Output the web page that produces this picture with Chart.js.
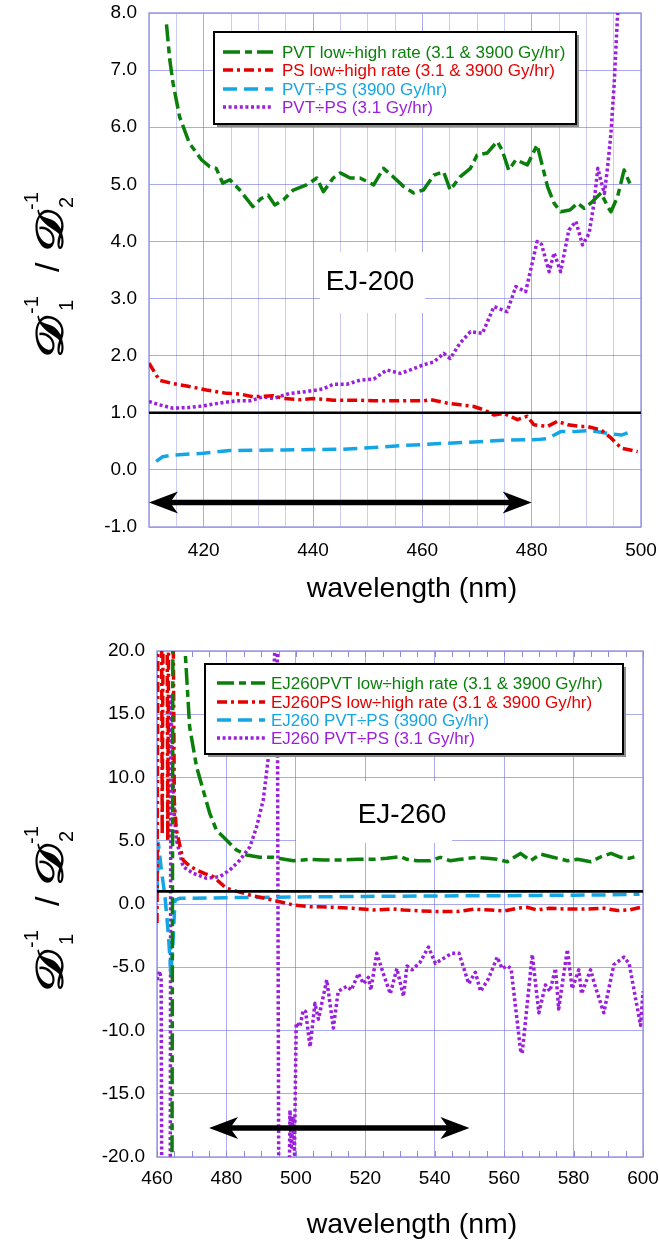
<!DOCTYPE html>
<html><head><meta charset="utf-8">
<script src="https://cdn.jsdelivr.net/npm/chart.js@4.4.1/dist/chart.umd.min.js"></script>
<style>
html,body{margin:0;padding:0;background:#fff;}
canvas{display:block;}
</style></head><body>
<canvas id="c1" width="659" height="620"></canvas>
<canvas id="c2" width="659" height="624"></canvas>
<script>
// ---------------- DATA : EJ-200 ----------------
const ej200Labels = ["PVT low\u00f7high rate (3.1 & 3900 Gy/hr)", "PS low\u00f7high rate (3.1 & 3900 Gy/hr)", "PVT\u00f7PS (3900 Gy/hr)", "PVT\u00f7PS (3.1 Gy/hr)"];
const ej200GreenX = [413.2,413.8,414.4,415.6,417.4,419.6,421.1,422.3,423.5,424.8,426.6,429.0,430.5,431.8,433.0,434.6,436.4,438.8,440.7,441.9,443.7,445.0,446.8,448.6,451.1,452.9,454.7,456.6,458.4,460.2,462.1,463.9,465.1,466.9,468.8,470.0,471.9,473.7,474.6,475.8,477.1,479.2,481.0,482.0,482.9,484.1,485.3,487.0,488.4,489.6,490.8,492.7,493.9,494.5,495.7,496.9,498.2];
const ej200GreenY = [7.80,7.18,6.77,6.18,5.72,5.43,5.31,5.28,5.02,5.08,4.90,4.61,4.75,4.81,4.64,4.73,4.90,4.99,5.11,4.87,5.11,5.20,5.11,5.11,4.99,5.28,5.13,4.96,4.85,4.90,5.16,5.22,4.90,5.13,5.28,5.51,5.55,5.75,5.60,5.25,5.43,5.34,5.69,5.31,4.96,4.67,4.52,4.55,4.67,4.58,4.67,4.85,4.61,4.52,4.78,5.25,4.96];
const ej200RedX = [410.0,411.9,414.4,417.4,420.5,424.2,426.6,429.0,432.7,434.6,437.6,440.1,443.7,448.0,451.0,454.7,460.2,461.5,464.5,467.0,469.4,471.3,473.1,474.9,477.4,479.2,480.4,482.9,484.7,486.6,489.0,490.2,492.7,494.5,496.4,499.4];
const ej200RedY = [1.87,1.57,1.51,1.46,1.40,1.34,1.33,1.28,1.30,1.25,1.23,1.25,1.22,1.22,1.21,1.21,1.21,1.23,1.17,1.14,1.11,1.05,0.96,0.99,0.88,0.94,0.79,0.76,0.85,0.79,0.76,0.76,0.70,0.56,0.38,0.32];
const ej200CyanX = [411.3,412.5,414.4,419.9,424.8,434.6,445.0,451.1,457.2,463.3,469.4,475.5,481.0,482.9,485.3,487.7,490.8,493.9,496.4,498.2];
const ej200CyanY = [0.15,0.23,0.26,0.29,0.34,0.35,0.36,0.39,0.43,0.46,0.49,0.52,0.53,0.55,0.67,0.67,0.69,0.64,0.61,0.67];
const ej200PurpleX = [410.0,411.9,414.4,417.0,419.9,422.9,426.0,428.5,430.9,432.7,435.8,438.8,441.9,443.7,446.2,448.6,451.1,453.5,456.0,457.8,460.2,462.1,463.9,465.1,466.9,468.8,471.0,473.1,475.5,477.1,478.9,481.0,481.8,483.2,484.1,485.3,486.8,488.1,489.3,490.5,491.4,492.1,492.7,493.3,493.9,494.5,495.1,495.7,496.2];
const ej200PurpleY = [1.20,1.14,1.08,1.09,1.12,1.17,1.21,1.21,1.28,1.25,1.34,1.37,1.42,1.50,1.50,1.57,1.59,1.75,1.69,1.75,1.84,1.89,2.04,1.95,2.22,2.42,2.39,2.86,2.77,3.21,3.12,4.00,3.95,3.47,3.80,3.47,4.20,4.35,3.94,4.14,4.67,5.28,5.05,4.84,5.31,5.89,6.77,7.94,8.6];
const ej200RefX = [410, 500];
const ej200RefY = [1, 1];
const ej200ArrowX = [410, 480];
const ej200ArrowY = -0.57;
const ej200XTicks = [410, 500, 5];
const ej200YTicks = [-1, 8, 1];

// ---------------- DATA : EJ-260 ----------------
const ej260Labels = ["EJ260PVT low\u00f7high rate (3.1 & 3900 Gy/hr)", "EJ260PS low\u00f7high rate (3.1 & 3900 Gy/hr)", "EJ260 PVT\u00f7PS (3900 Gy/hr)", "EJ260 PVT\u00f7PS (3.1 Gy/hr)"];
const ej260GreenX = [464.3,464.6,468.0,469.4,471.4,473.3,475.2,477.1,480.0,482.9,485.8,489.6,493.5,495.4,499.3,504.1,508.0,512.8,517.6,522.4,526.2,530.1,532.0,534.9,538.7,541.6,544.5,547.4,552.2,555.1,558.0,560.9,564.7,567.6,570.5,573.5,578.2,581.1,585.0,587.9,590.8,593.6,596.0,598.4];
const ej260GreenY = [-25,25,20.5,14.0,10.85,9.0,7.17,5.85,5.06,4.27,3.87,3.70,3.69,3.60,3.42,3.53,3.48,3.48,3.53,3.53,3.61,3.74,3.53,3.42,3.42,3.69,3.42,3.53,3.69,3.61,3.53,3.34,4.00,3.42,3.95,3.74,3.42,3.53,3.34,3.74,4.00,3.69,3.61,3.79];
const ej260RedX = [460.0,460.3,461.3,461.5,461.8,462.9,463.1,463.4,464.6,465.0,465.6,467.5,469.4,471.4,473.8,476.2,480.0,483.0,486.8,491.0,495.4,499.3,504.1,510.8,516.6,522.4,528.1,531.0,535.8,541.6,546.4,551.2,556.1,559.9,563.7,566.6,569.5,573.0,578.2,583.0,588.8,592.7,596.0,599.3];
const ej260RedY = [-1.5,25,25,5.5,25,25,5,25,25,8,5.85,3.48,3.0,2.69,2.4,2.16,1.24,1.0,0.71,0.45,0.18,-0.08,-0.21,-0.26,-0.34,-0.47,-0.40,-0.47,-0.55,-0.60,-0.60,-0.42,-0.47,-0.55,-0.34,-0.26,-0.47,-0.34,-0.40,-0.40,-0.34,-0.52,-0.47,-0.26];
const ej260CyanX = [460.0,460.4,461.3,462.3,463.3,464.0,464.6,465.2,466.5,470,480,490,500,510,520,530,540,550,560,570,580,590,599];
const ej260CyanY = [0.8,4.8,2.6,0.6,-2.5,-5.5,-3.0,0.3,0.45,0.45,0.5,0.52,0.55,0.58,0.6,0.62,0.63,0.65,0.66,0.68,0.7,0.72,0.78];
const ej260PurpleX = [460.0,460.8,461.2,461.4,463.8,464.0,464.5,465.0,465.6,467.5,470.4,474.3,478.1,481.0,483.9,486.8,488.7,490.6,492.1,493.5,494.6,495.1,498.0,498.3,498.7,499.2,499.6,500.1,501.2,502.1,502.8,504.1,505.5,506.5,508.9,510.8,512.2,514.7,516.0,518.0,519.5,520.9,521.6,523.3,525.2,527.2,529.1,531.0,532.0,533.5,535.8,538.2,540.2,542.5,545.0,547.0,549.8,551.7,553.2,555.5,558.0,559.4,560.9,562.0,564.7,565.2,568.1,570.0,571.9,573.2,574.8,575.7,578.2,579.6,581.5,582.3,584.9,586.0,588.7,591.6,594.5,596.0,599.3,600.0];
const ej260PurpleY = [-6.0,-5.3,-6.0,-25,-25,16.4,11,7,5.06,2.95,2.43,2.03,2.16,2.69,3.48,4.53,6.11,8.22,11.64,16.9,25,-25,-25,-16.3,-19.2,-16.8,-19.8,-9.4,-9.7,-8.4,-8.5,-11.3,-7.85,-9.1,-6.0,-9.8,-6.9,-6.5,-6.8,-5.5,-6.3,-5.8,-6.8,-3.9,-5.5,-7.1,-5.1,-7.3,-4.9,-5.2,-4.6,-3.4,-4.7,-4.3,-3.9,-3.9,-6.3,-5.4,-6.9,-5.9,-4.2,-5.1,-4.9,-5.1,-11.5,-11.8,-4.0,-8.6,-6.4,-6.9,-5.1,-8.3,-3.6,-6.7,-5.2,-7.1,-5.2,-6.3,-8.6,-4.8,-4.2,-4.7,-9.6,-6.9];
const ej260RefX = [460, 600];
const ej260RefY = [1, 1];
const ej260ArrowX = [475, 550];
const ej260ArrowY = -17.7;
const ej260XTicks = [460, 600, 20];
const ej260YTicks = [-20, 20, 5];

// ---------------- STYLE ----------------
const FONT = "'Liberation Sans', Arial, Helvetica, sans-serif";
Chart.defaults.font.family = FONT;
Chart.defaults.color = '#000';
Chart.defaults.animation = false;

const COLORS = {green:'#0b7f0b', red:'#e50000', cyan:'#14a6e4', purple:'#9b1fdb'};
const DASH = {green:[17,5,7,5], red:[10,4,3,4], cyan:[14,7], purple:[3,2.6]};

function pts(xs, ys){ return xs.map((x,i)=>({x:x, y:ys[i]})); }
function series(label, key, xs, ys){
  return {label:label, data:pts(xs,ys), borderColor:COLORS[key], backgroundColor:COLORS[key],
    borderDash:DASH[key], borderWidth:3.5, pointRadius:0, tension:0, fill:false,
    borderCapStyle:'butt', borderJoinStyle:'round'};
}
function refLine(xs, ys){
  return {label:'ref', data:pts(xs,ys), borderColor:'#000', borderWidth:2.6, pointRadius:0, tension:0, fill:false, order:-1};
}

function drawArrow(ctx, x0, x1, y){
  const L=29, H=11, N=8, T=5.5;
  ctx.save();
  ctx.fillStyle='#000'; ctx.strokeStyle='#000'; ctx.lineWidth=T; ctx.setLineDash([]);
  ctx.beginPath(); ctx.moveTo(x0+L-N-1, y); ctx.lineTo(x1-L+N+1, y); ctx.stroke();
  ctx.beginPath(); ctx.moveTo(x0,y); ctx.lineTo(x0+L,y-H); ctx.lineTo(x0+L-N,y); ctx.lineTo(x0+L,y+H); ctx.closePath(); ctx.fill();
  ctx.beginPath(); ctx.moveTo(x1,y); ctx.lineTo(x1-L,y-H); ctx.lineTo(x1-L+N,y); ctx.lineTo(x1-L,y+H); ctx.closePath(); ctx.fill();
  ctx.restore();
}

// y-axis title: script D with stacked sub/superscripts, drawn rotated
function drawYTitle(ctx, cx, cy, sub1, sub2){
  const fD = "bold 40px 'DejaVu Serif', serif";
  const fS = "20px " + FONT;
  const fSl = "34px " + FONT;
  const total = 172;
  ctx.save();
  ctx.translate(cx, cy);
  ctx.rotate(-Math.PI/2);
  ctx.fillStyle = '#000';
  ctx.textBaseline = 'alphabetic';
  ctx.textAlign = 'left';
  const x0 = -total/2;
  const base = 18, subBase = 28, supBase = -7;
  const drawD = (px) => {
    ctx.save(); ctx.font = fD; ctx.translate(x0 + px, base); ctx.scale(1.3, 0.95);
    ctx.fillText('\u{1D49F}', 0, 0); ctx.restore();
  };
  drawD(0);
  ctx.font = fS; ctx.fillText(sub1, x0 + 47, subBase); ctx.fillText('-1', x0 + 44, supBase);
  ctx.font = fSl; ctx.fillText('/', x0 + 86, base - 4);
  drawD(106);
  ctx.font = fS; ctx.fillText(sub2, x0 + 150, subBase); ctx.fillText('-1', x0 + 148, supBase);
  ctx.restore();
}

function makePlugin(cfg){
  return {
    id: 'deco_' + cfg.name,
    beforeDatasetsDraw(chart){
      const ctx = chart.ctx, a = chart.chartArea;
      ctx.save();
      ctx.strokeStyle = '#9c9ce6'; ctx.lineWidth = 1.5;
      ctx.strokeRect(a.left, a.top, a.right-a.left, a.bottom-a.top);
      if (cfg.minorStep){
        const xs = chart.scales.x;
        ctx.strokeStyle = '#8a8ae0'; ctx.lineWidth = 1;
        for (let v = xs.min; v <= xs.max + 1e-9; v += cfg.minorStep){
          const px = Math.round(xs.getPixelForValue(v)) + 0.5;
          ctx.beginPath(); ctx.moveTo(px, a.bottom); ctx.lineTo(px, a.bottom-6);
          ctx.moveTo(px, a.top); ctx.lineTo(px, a.top+6); ctx.stroke();
        }
      }
      const b = cfg.labelBox;
      ctx.fillStyle = '#fff'; ctx.fillRect(b.x, b.y, b.w, b.h);
      ctx.fillStyle = '#000'; ctx.font = "28px " + FONT; ctx.textAlign='center'; ctx.textBaseline='middle';
      ctx.fillText(cfg.labelText, cfg.labelPos[0], cfg.labelPos[1]);
      ctx.restore();
    },
    afterDatasetsDraw(chart){
      const ctx = chart.ctx;
      const xs = chart.scales.x, ys = chart.scales.y;
      drawArrow(ctx, xs.getPixelForValue(cfg.arrowX[0]), xs.getPixelForValue(cfg.arrowX[1]), ys.getPixelForValue(cfg.arrowY));
      const L = cfg.legend;
      ctx.save();
      ctx.fillStyle = '#8c8c8c'; ctx.fillRect(L.x+3, L.y+3, L.w, L.h);
      ctx.fillStyle = '#fff'; ctx.fillRect(L.x, L.y, L.w, L.h);
      ctx.strokeStyle = '#000'; ctx.lineWidth = 2; ctx.strokeRect(L.x, L.y, L.w, L.h);
      chart.data.datasets.slice(0,4).forEach((ds, i) => {
        const y = L.y + L.rows[i];
        ctx.beginPath(); ctx.setLineDash(ds.borderDash); ctx.lineWidth = 3.5; ctx.strokeStyle = ds.borderColor;
        ctx.moveTo(L.lx0, y); ctx.lineTo(L.lx1, y); ctx.stroke();
        ctx.setLineDash([]);
        ctx.fillStyle = ds.borderColor; ctx.font = "17px " + FONT; ctx.textAlign='left'; ctx.textBaseline='middle';
        ctx.fillText(ds.label, L.tx, y + 1);
      });
      ctx.restore();
    },
    afterDraw(chart){
      const ctx = chart.ctx, a = chart.chartArea;
      ctx.save();
      ctx.fillStyle = '#000'; ctx.font = "28.5px " + FONT; ctx.textAlign='center'; ctx.textBaseline='middle';
      ctx.fillText('wavelength (nm)', cfg.xTitle[0], cfg.xTitle[1]);
      ctx.restore();
      drawYTitle(ctx, cfg.yTitleX, (a.top + a.bottom)/2 + 2, '1', '2');
    }
  };
}

function makeChart(id, cfg){
  const major = 'rgba(100,100,225,0.55)', minor = 'rgba(110,110,225,0.35)';
  return new Chart(document.getElementById(id), {
    type: 'line',
    data: { datasets: [
      series(cfg.labels[0], 'green', cfg.green[0], cfg.green[1]),
      series(cfg.labels[1], 'red', cfg.red[0], cfg.red[1]),
      series(cfg.labels[2], 'cyan', cfg.cyan[0], cfg.cyan[1]),
      series(cfg.labels[3], 'purple', cfg.purple[0], cfg.purple[1]),
      refLine(cfg.ref[0], cfg.ref[1])
    ]},
    options: {
      responsive: false, devicePixelRatio: 1, animation: false,
      layout: { padding: cfg.padding },
      plugins: { legend: {display:false}, tooltip: {enabled:false} },
      scales: {
        x: { type:'linear', min: cfg.xTicks[0], max: cfg.xTicks[1],
          afterFit: s => { s.height = cfg.xAxisH; s.paddingLeft = 0; s.paddingRight = 0; },
          border: {display:false},
          grid: { drawTicks:false, color: c => (c.tick && Math.abs(c.tick.value % 20) < 1e-6) ? major : minor, lineWidth: 1 },
          ticks: { stepSize: cfg.xTicks[2], autoSkip:false, maxRotation:0, padding: cfg.xPad,
            font: {size: 19}, color:'#000',
            callback: v => (Math.abs(v % 20) < 1e-6) ? String(v) : '' } },
        y: { type:'linear', min: cfg.yTicks[0], max: cfg.yTicks[1],
          afterFit: s => { s.width = cfg.yAxisW; s.paddingTop = 0; s.paddingBottom = 0; },
          border: {display:false},
          grid: { drawTicks:false, color: major, lineWidth: 1 },
          ticks: { stepSize: cfg.yTicks[2], padding: cfg.yPad, font:{size:19}, color:'#000',
            callback: v => Number(v).toFixed(1) } }
      }
    },
    plugins: [makePlugin(cfg)]
  });
}

makeChart('c1', {
  name:'ej200', labels: ej200Labels,
  green:[ej200GreenX, ej200GreenY], red:[ej200RedX, ej200RedY], cyan:[ej200CyanX, ej200CyanY], purple:[ej200PurpleX, ej200PurpleY],
  ref:[ej200RefX, ej200RefY], arrowX: ej200ArrowX, arrowY: ej200ArrowY,
  xTicks: ej200XTicks, yTicks: ej200YTicks,
  padding: {top:13, right:18, left:0, bottom:0}, yAxisW:149, xAxisH:93, xPad:12, yPad:12,
  labelBox:{x:320, y:252, w:105, h:61}, labelText:'EJ-200', labelPos:[370, 282],
  legend:{x:214, y:32, w:362, h:92, rows:[20,38,57,75], lx0:223, lx1:273, tx:282},
  xTitle:[412, 589], yTitleX: 45, minorStep: 0
});

makeChart('c2', {
  name:'ej260', labels: ej260Labels,
  green:[ej260GreenX, ej260GreenY], red:[ej260RedX, ej260RedY], cyan:[ej260CyanX, ej260CyanY], purple:[ej260PurpleX, ej260PurpleY],
  ref:[ej260RefX, ej260RefY], arrowX: ej260ArrowX, arrowY: ej260ArrowY,
  xTicks: ej260XTicks, yTicks: ej260YTicks,
  padding: {top:31, right:16, left:0, bottom:0}, yAxisW:157, xAxisH:87, xPad:10, yPad:12,
  labelBox:{x:296, y:161, w:156, h:62}, labelText:'EJ-260', labelPos:[402, 195],
  legend:{x:205, y:44, w:418, h:90, rows:[19,38,56,74], lx0:217, lx1:265, tx:271},
  xTitle:[412, 605], yTitleX: 45, minorStep: 5
});
</script>
</body></html>
